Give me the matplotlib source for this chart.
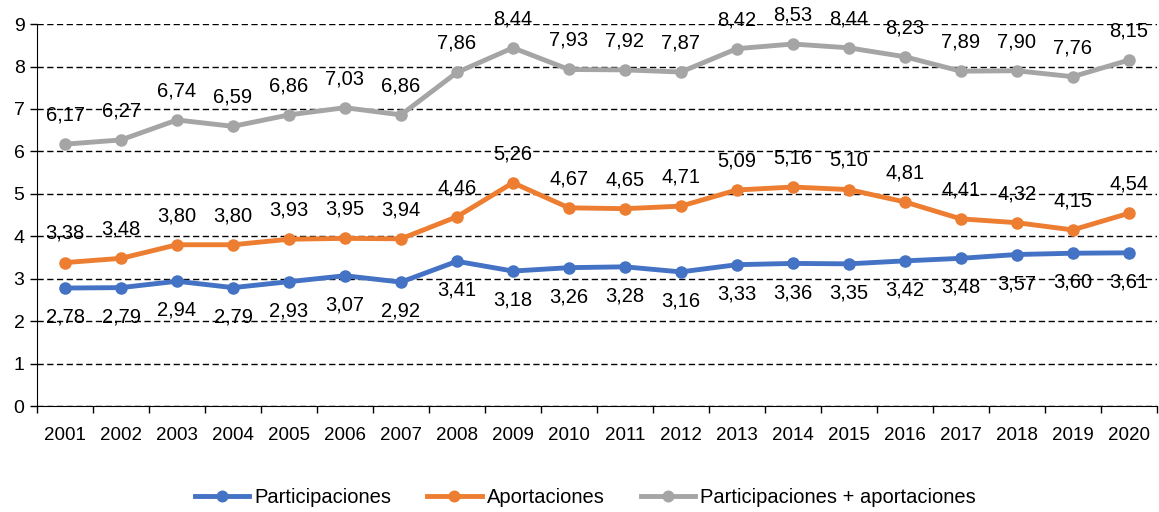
import matplotlib
matplotlib.use("Agg")
import matplotlib.pyplot as plt
import numpy as np

plt.rcParams['font.family'] = ['Liberation Sans', 'DejaVu Sans']

years = [str(y) for y in range(2001, 2021)]
participaciones = [2.78, 2.79, 2.94, 2.79, 2.93, 3.07, 2.92, 3.41, 3.18, 3.26,
                   3.28, 3.16, 3.33, 3.36, 3.35, 3.42, 3.48, 3.57, 3.60, 3.61]
aportaciones = [3.38, 3.48, 3.80, 3.80, 3.93, 3.95, 3.94, 4.46, 5.26, 4.67,
                4.65, 4.71, 5.09, 5.16, 5.10, 4.81, 4.41, 4.32, 4.15, 4.54]
total = [6.17, 6.27, 6.74, 6.59, 6.86, 7.03, 6.86, 7.86, 8.44, 7.93,
         7.92, 7.87, 8.42, 8.53, 8.44, 8.23, 7.89, 7.90, 7.76, 8.15]

series = [
    ("Participaciones", participaciones, "#4472C4", -1),
    ("Aportaciones", aportaciones, "#ED7D31", 1),
    ("Participaciones + aportaciones", total, "#A5A5A5", 1),
]

fig = plt.figure(figsize=(11.59, 5.12), dpi=100)
ax = fig.add_axes([0.032, 0.207, 0.966, 0.746])

x = np.arange(len(years))
for name, vals, color, side in series:
    ax.plot(x, vals, color=color, lw=3.5, marker="o", ms=8, label=name, zorder=3)
    for xi, v in zip(x, vals):
        label = f"{v:.2f}".replace(".", ",")
        ax.annotate(label, (xi, v), xytext=(0, 21 * side), textcoords="offset points",
                    ha="center", va="center", fontsize=14.5, zorder=4)

ax.set_xlim(-0.5, len(years) - 0.5)
ax.set_ylim(0, 9)
ax.set_yticks(range(0, 10))
ax.set_xticks(x)
ax.set_xticklabels(years)
ax.set_xticks(np.arange(-0.5, len(years), 1), minor=True)
ax.tick_params(axis="x", which="major", length=0, labelsize=13.5, pad=15)
ax.tick_params(axis="x", which="minor", length=5, width=1, color="black")
ax.tick_params(axis="y", length=5, width=1, labelsize=14, pad=4)

ax.grid(axis="y", color="black", linestyle=(0, (4.5, 2.5)), lw=1, zorder=0)
ax.set_axisbelow(True)
for s in ["top", "right"]:
    ax.spines[s].set_visible(False)
ax.spines["left"].set_color("black")
ax.spines["bottom"].set_color("black")

fig.legend(loc="center", bbox_to_anchor=(0.505, 0.029), ncol=3, frameon=False,
           fontsize=14.5, handlelength=2.7, handletextpad=0.25, columnspacing=1.8,
           markerscale=0.95)

fig.savefig("out.png", dpi=100)
